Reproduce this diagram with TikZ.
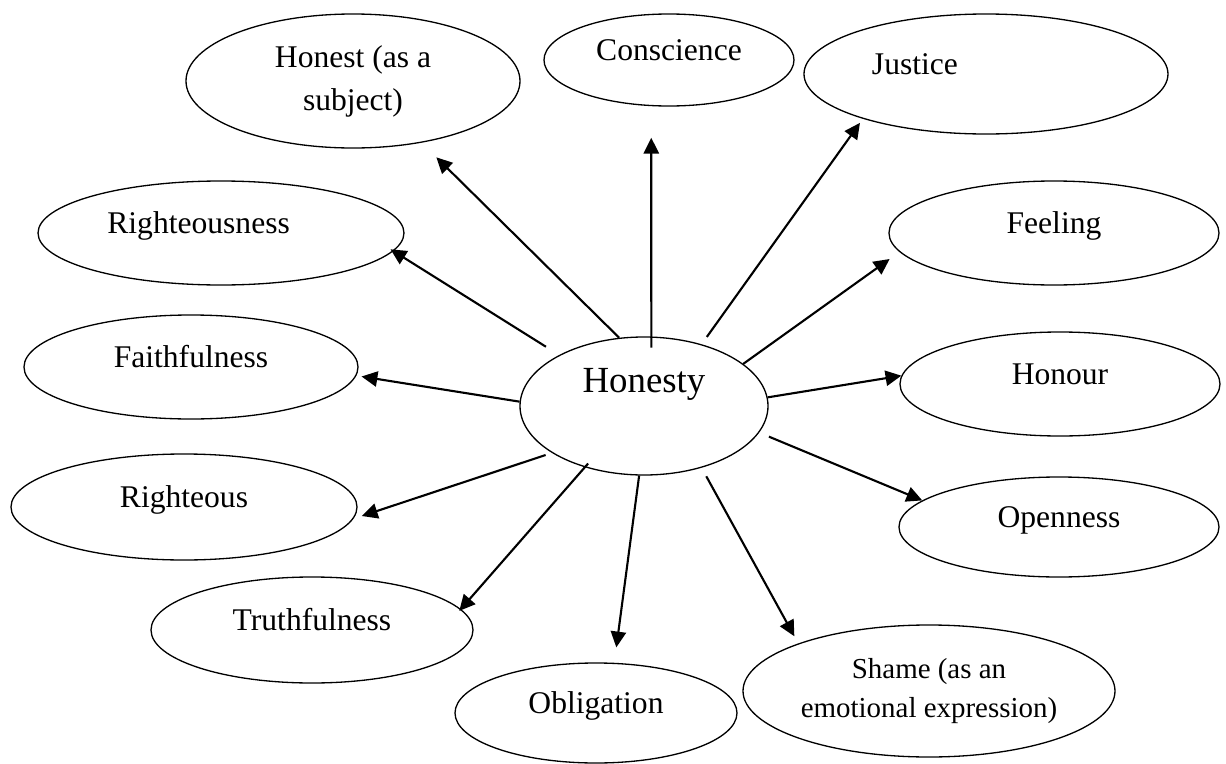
\documentclass[tikz,border=0pt]{standalone}
\usepackage{fontspec}
\setmainfont{Liberation Serif}
\usetikzlibrary{shapes.geometric,arrows.meta}

\newdimen\px
\px=0.38pt

\tikzset{
    oval/.style 2 args={ellipse, draw, line width=0.5pt, inner sep=0pt,
        minimum width=#1*\px, minimum height=#2*\px, font=\fontsize{12}{16.3}\selectfont},
    link/.style={-{Triangle[length=6pt,width=5.8pt]}, line width=0.8pt}
}

\begin{document}
\begin{tikzpicture}[x=0.38pt,y=-0.38pt]
                \useasboundingbox (0,0) rectangle (1226,764);
                \node[oval={334}{134}, align=center] (honest) at (353,81) {Honest (as a\\subject)};
                \node[oval={250}{92}] (consc) at (669,60) {\smash{Conscience}};
                \node[oval={364}{120}] (justice) at (986,74) {\smash{Justice}\hspace*{54pt}};
                \node[oval={366}{104}] (rness) at (221,233) {\smash{Righteousness}\hspace*{17pt}};
                \node[oval={330}{104}] (feeling) at (1054,233) {\smash{Feeling}};
                \node[oval={334}{104}] (faith) at (191,367) {\smash{Faithfulness}};
                \node[oval={248}{138}, font=\fontsize{14}{17}\selectfont] (hon) at (644,406) {\smash{\raisebox{5.3pt}{Honesty}}};
                \node[oval={320}{104}] (honour) at (1060,384) {\smash{Honour}};
                \node[oval={346}{106}] (rtous) at (184,507) {\smash{Righteous}};
                \node[oval={320}{100}] (open) at (1059,527) {\smash{Openness}};
                \node[oval={322}{106}] (truth) at (312,630) {\smash{Truthfulness}};
                \node[oval={282}{100}] (oblig) at (596,713) {\smash{Obligation}};
                \node[oval={372}{132}, align=center, font=\fontsize{11}{14.8}\selectfont] (shame) at (929,691) {Shame (as an\\emotional expression)};
                \foreach \tgt/\a/\b/\s/\e in {honest/110.7/-42.4/0pt/7.9pt,consc/84.2/-111.6/-4.2pt/12pt,justice/47.9/-160.5/3.4pt/1.9pt,feeling/23.0/-173.9/0pt/4.6pt,honour/4.1/177.8/0pt/0pt,open/-13.3/169.0/4pt/0pt,shame/-47.5/160.3/3.7pt/3.1pt,oblig/-94.7/70.1/0pt/5.9pt,truth/-134.4/8.9/-1.9pt/-0.9pt,rtous/-153.7/-4.4/2.5pt/3.4pt,faith/178.7/-3.6/0pt/2pt,rness/149.9/-6.3/5.9pt/-1.3pt}{
                    \draw[link, shorten <=\s, shorten >=\e] (hon.\a) -- (\tgt.\b);
                }
            \end{tikzpicture}
\end{document}
